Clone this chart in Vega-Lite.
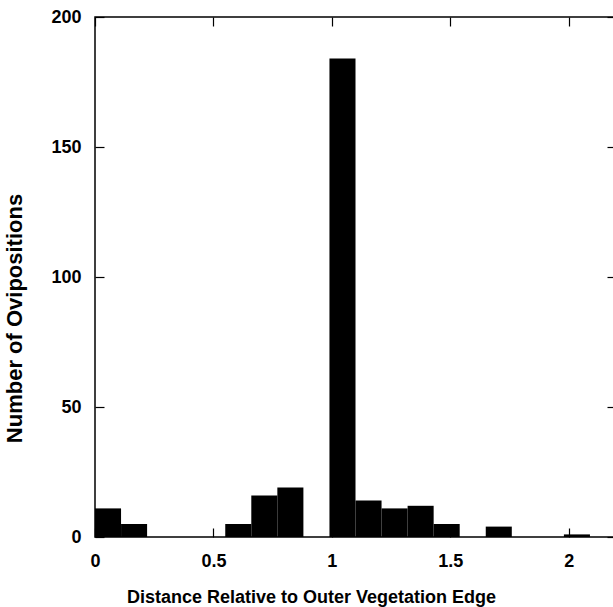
{
  "$schema": "https://vega.github.io/schema/vega-lite/v6.json",
  "autosize": "none",
  "padding": {"left": 95, "top": 17, "right": 0, "bottom": 70},
  "width": 521,
  "height": 520,
  "background": "white",
  "config": {
    "view": {"stroke": "black", "strokeWidth": 1.5},
    "font": "Liberation Sans",
    "axis": {
      "labelFont": "Liberation Sans",
      "labelFontWeight": "bold",
      "labelFontSize": 18,
      "labelColor": "black",
      "titleFont": "Liberation Sans",
      "titleFontWeight": "bold",
      "titleFontSize": 18,
      "titleColor": "black",
      "domain": false,
      "grid": false,
      "tickColor": "black",
      "tickWidth": 1.2,
      "tickSize": -9
    }
  },
  "data": {
    "values": [
      {"x0": 0.00, "x1": 0.11, "n": 11},
      {"x0": 0.11, "x1": 0.22, "n": 5},
      {"x0": 0.55, "x1": 0.66, "n": 5},
      {"x0": 0.66, "x1": 0.77, "n": 16},
      {"x0": 0.77, "x1": 0.88, "n": 19},
      {"x0": 0.99, "x1": 1.10, "n": 184},
      {"x0": 1.10, "x1": 1.21, "n": 14},
      {"x0": 1.21, "x1": 1.32, "n": 11},
      {"x0": 1.32, "x1": 1.43, "n": 12},
      {"x0": 1.43, "x1": 1.54, "n": 5},
      {"x0": 1.65, "x1": 1.76, "n": 4},
      {"x0": 1.98, "x1": 2.09, "n": 1}
    ]
  },
  "resolve": {"axis": {"x": "independent", "y": "independent"}},
  "layer": [
    {
      "mark": {"type": "bar", "color": "black"},
      "encoding": {
        "x": {
          "field": "x0", "type": "quantitative",
          "scale": {"domain": [0, 2.2], "nice": false, "zero": false},
          "axis": {"values": [0, 0.5, 1, 1.5, 2], "format": "~g", "labelPadding": 24, "labelFlush": false, "title": "Distance Relative to Outer Vegetation Edge", "titlePadding": 18, "titleX": 216}
        },
        "x2": {"field": "x1"},
        "y": {
          "field": "n", "type": "quantitative",
          "scale": {"domain": [0, 200], "nice": false},
          "axis": {"values": [0, 50, 100, 150, 200], "labelPadding": 23, "title": "Number of Ovipositions", "titlePadding": 24, "titleFontSize": 22, "titleY": 301}
        },
        "y2": {"datum": 0}
      }
    },
    {
      "mark": {"type": "bar", "opacity": 0},
      "encoding": {
        "x": {
          "field": "x0", "type": "quantitative",
          "axis": {"orient": "top", "values": [0, 0.5, 1, 1.5, 2], "labels": false, "title": null}
        },
        "x2": {"field": "x1"},
        "y": {
          "field": "n", "type": "quantitative",
          "axis": {"orient": "right", "values": [0, 50, 100, 150, 200], "labels": false, "title": null}
        },
        "y2": {"datum": 0}
      }
    }
  ]
}
